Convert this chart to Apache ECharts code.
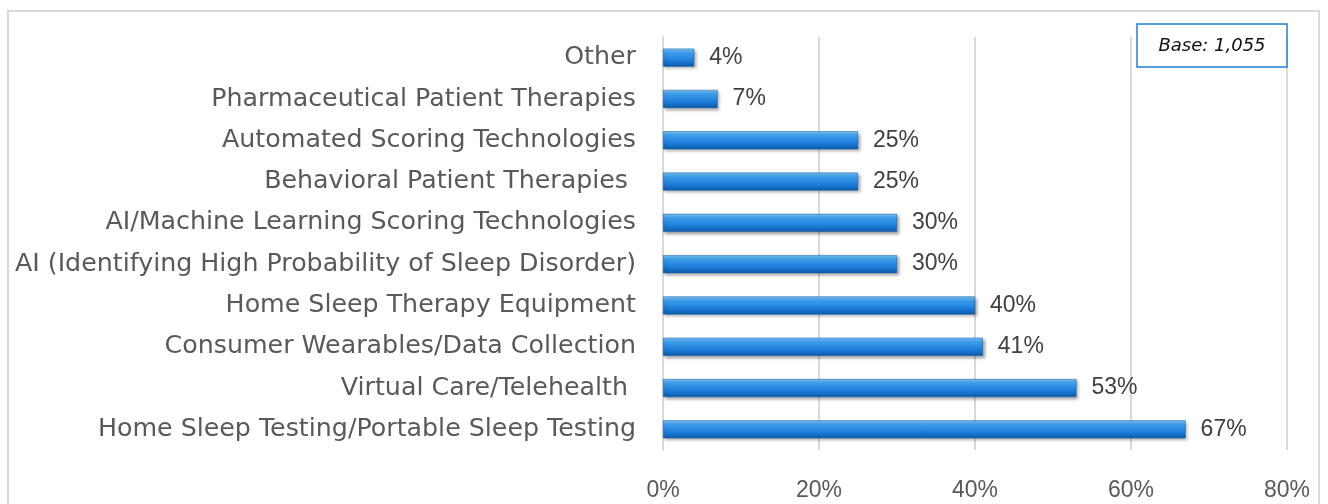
<!DOCTYPE html>
<html>
<head>
<meta charset="utf-8">
<script src="https://cdn.jsdelivr.net/npm/echarts@6/dist/echarts.min.js"></script>
<style>
  html, body { margin: 0; padding: 0; background: #fff; }
  #chart { width: 1328px; height: 504px; }
</style>
</head>
<body>
<div id="chart"></div>
<script>
// categories listed bottom to top (echarts category axis on y goes upward)
var categories = [
  "Home Sleep Testing/Portable Sleep Testing",
  "Virtual Care/Telehealth ",
  "Consumer Wearables/Data Collection",
  "Home Sleep Therapy Equipment",
  "AI (Identifying High Probability of Sleep Disorder)",
  "AI/Machine Learning Scoring Technologies",
  "Behavioral Patient Therapies ",
  "Automated Scoring Technologies",
  "Pharmaceutical Patient Therapies",
  "Other"
];
var shares = [67, 53, 41, 40, 30, 30, 25, 25, 7, 4];
var baseText = "Base: 1,055";

var font = "Liberation Sans";
var myChart = echarts.init(document.getElementById("chart"));

var barColor = new echarts.graphic.LinearGradient(0, 0, 0, 1, [
  { offset: 0, color: "#7cc6f8" },
  { offset: 0.25, color: "#3a9cec" },
  { offset: 0.7, color: "#1a7ad6" },
  { offset: 1, color: "#0c5aa8" }
]);

var option = {
  animation: false,
  textStyle: { fontFamily: font },
  grid: { left: 663, right: 41, top: 37, bottom: 54, containLabel: false },
  xAxis: {
    type: "value",
    min: 0,
    max: 80,
    interval: 20,
    axisLabel: {
      formatter: "{value}%",
      color: "#595959",
      fontSize: 23,
      margin: 29
    },
    axisLine: { show: false },
    axisTick: { show: false },
    splitLine: { lineStyle: { color: "#d9d9d9", width: 2 } }
  },
  yAxis: {
    type: "category",
    data: categories,
    axisLine: { lineStyle: { color: "#d9d9d9", width: 2 } },
    axisTick: { show: false },
    axisLabel: { color: "#595959", fontSize: 25.3, margin: 27, fontFamily: "DejaVu Sans" }
  },
  series: [
    {
      type: "bar",
      data: shares,
      barWidth: 18,
      itemStyle: {
        color: barColor,
        borderColor: "#0d5aa6",
        borderWidth: 0.5,
        shadowColor: "rgba(0,0,0,0.35)",
        shadowBlur: 3,
        shadowOffsetX: 2,
        shadowOffsetY: 2
      },
      label: {
        show: true,
        position: "right",
        distance: 15,
        formatter: "{c}%",
        color: "#404040",
        fontSize: 23
      }
    }
  ],
  graphic: [
    {
      type: "rect",
      shape: { x: 8, y: 11, width: 1311, height: 510 },
      style: { fill: null, stroke: "#d9d9d9", lineWidth: 2 },
      silent: true
    },
    {
      type: "rect",
      shape: { x: 1137, y: 24, width: 150, height: 43 },
      style: { fill: "#fff", stroke: "#1f7fd8", lineWidth: 1.5 },
      z: 10
    },
    {
      type: "text",
      x: 1212,
      y: 46,
      style: {
        text: baseText,
        fill: "#111",
        font: "italic 18px 'DejaVu Sans'",
        align: "center",
        verticalAlign: "middle"
      },
      z: 11
    }
  ]
};

myChart.setOption(option);
</script>
</body>
</html>
